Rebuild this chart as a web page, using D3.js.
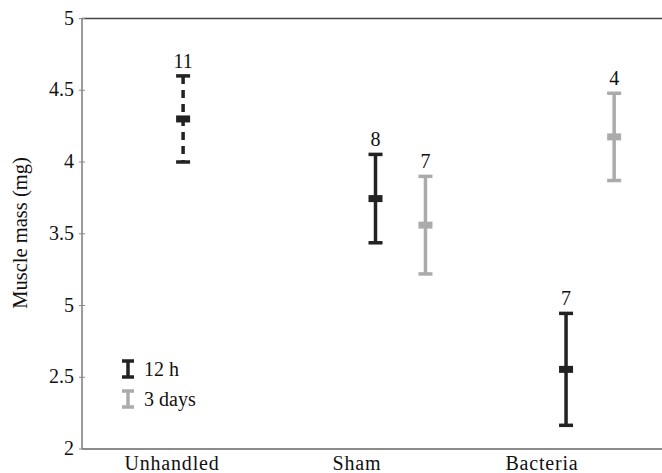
<!DOCTYPE html>
<html>
<head>
<meta charset="utf-8">
<script src="https://cdn.jsdelivr.net/npm/d3@7"></script>
<style>
  body { margin: 0; background: #fff; }
</style>
</head>
<body>
<div id="chart"><svg width="662" height="473"></svg></div>
<script>
const CATEGORIES = ['Unhandled', 'Sham', 'Bacteria'];
const SERIES = ['12 h', '3 days'];

// mean and error (half bar) per category, null where missing
const MEAN_12H = [4.30, 3.745, 2.555];
const ERR_12H = [0.30, 0.308, 0.39];
const N_12H = [11, 8, 7];

const MEAN_3D = [null, 3.56, 4.175];
const ERR_3D = [null, 0.34, 0.304];
const N_3D = [null, 7, 4];

const Y_TICKS = [5, 4.5, 4, 3.5, 3, 2.5, 2];
const Y_TICK_LABELS = ['5', '4.5', '4', '3.5', '5', '2.5', '2'];

// layout: where each series sits relative to its category (category units)
const OFFSET_12H = [0.06, 0.10, 0.13];
const OFFSET_3D = [0, 0.37, 0.39];

const FONT = "'Liberation Serif', 'Times New Roman', serif";

const SVG = d3.select('#chart svg');
const WIDTH = 662;
const LEFT = 82;
const TOP = 18.5;
const BOTTOM = 449;

const COLORS = ['#222222', '#ababab'];

const x = d3.scaleLinear().domain([1, 3]).range([172, 542]);
const y = d3.scaleLinear().domain([2, 5]).range([BOTTOM, TOP]);

function label(g, str, size) {
  return g.append('text').text(str)
    .attr('font-family', FONT)
    .attr('font-size', size)
    .attr('fill', '#111');
}

// frame: left, top, bottom
SVG.append('line').attr('x1', LEFT).attr('x2', LEFT).attr('y1', TOP).attr('y2', BOTTOM)
  .style('stroke', '#666').style('stroke-width', 1.3);
SVG.append('line').attr('x1', LEFT).attr('x2', WIDTH).attr('y1', TOP).attr('y2', TOP)
  .style('stroke', '#444').style('stroke-width', 1.3);
SVG.append('line').attr('x1', LEFT).attr('x2', WIDTH).attr('y1', BOTTOM).attr('y2', BOTTOM)
  .style('stroke', '#666').style('stroke-width', 1.3);

// y ticks
const Y_AXIS = SVG.append('g');
Y_TICKS.forEach((t, i) => {
  Y_AXIS.append('line').attr('x1', LEFT - 3).attr('x2', LEFT + 3)
    .attr('y1', y(t)).attr('y2', y(t)).style('stroke', '#888').style('stroke-width', 1);
  label(Y_AXIS, Y_TICK_LABELS[i], 20)
    .attr('x', LEFT - 8).attr('y', y(t) + 6)
    .attr('text-anchor', 'end');
});

label(SVG, 'Muscle mass (mg)', 20.5)
  .attr('transform', 'translate(27, 233) rotate(-90)')
  .attr('text-anchor', 'middle');

// category labels
CATEGORIES.forEach((c, i) => {
  label(SVG, c, 20)
    .attr('x', x(i + 1)).attr('y', 470)
    .attr('text-anchor', 'middle')
    .attr('letter-spacing', '0.8');
});

function drawBar(g, cx, mean, err, n, color, dashed) {
  const top = y(mean + err);
  const bot = y(mean - err);
  g.append('line').attr('x1', cx).attr('x2', cx).attr('y1', top).attr('y2', bot)
    .style('stroke', color).style('stroke-width', 3.5)
    .style('stroke-dasharray', dashed ? '8,6' : null);
  [top, bot].forEach((yy) => {
    g.append('line').attr('x1', cx - 7).attr('x2', cx + 7).attr('y1', yy).attr('y2', yy)
      .style('stroke', color).style('stroke-width', 3.5);
  });
  g.append('rect').attr('x', cx - 7).attr('y', y(mean) - 3.5)
    .attr('width', 14).attr('height', 7).style('fill', color);
  label(g, n, 20).attr('x', cx).attr('y', top - 8)
    .attr('text-anchor', 'middle');
}

const BARS = SVG.append('g');
CATEGORIES.forEach((c, i) => {
  if (MEAN_12H[i] != null) {
    drawBar(BARS, x(i + 1 + OFFSET_12H[i]), MEAN_12H[i], ERR_12H[i], N_12H[i], COLORS[0], i === 0);
  }
  if (MEAN_3D[i] != null) {
    drawBar(BARS, x(i + 1 + OFFSET_3D[i]), MEAN_3D[i], ERR_3D[i], N_3D[i], COLORS[1], false);
  }
});

// legend
const LEGEND = SVG.append('g').attr('transform', 'translate(128, 369)');
SERIES.forEach((s, i) => {
  const g = LEGEND.append('g').attr('transform', `translate(0, ${i * 30})`);
  g.append('line').attr('x1', 0).attr('x2', 0).attr('y1', -8).attr('y2', 8)
    .style('stroke', COLORS[i]).style('stroke-width', 3.5);
  [-8, 8].forEach((yy) => {
    g.append('line').attr('x1', -6).attr('x2', 6).attr('y1', yy).attr('y2', yy)
      .style('stroke', COLORS[i]).style('stroke-width', 3.5);
  });
  label(g, s, 20).attr('x', 16).attr('y', 7);
});
</script>
</body>
</html>
